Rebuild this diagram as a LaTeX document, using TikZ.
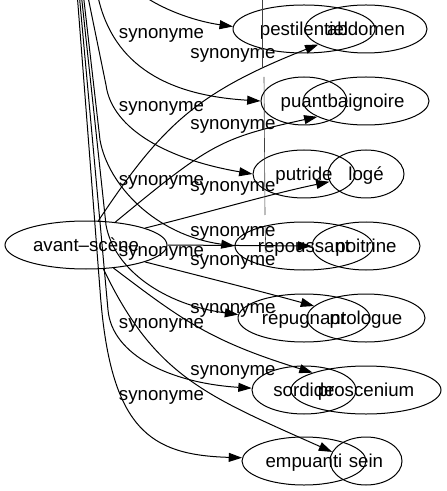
\documentclass[tikz,border=0pt]{standalone}
\usepackage{fontspec}
\setmainfont{Liberation Sans}
\usetikzlibrary{shapes.geometric,arrows.meta}
\tikzset{
  word/.style={ellipse, draw, line width=0.75pt, inner sep=0pt, minimum height=36pt,
    font=\fontsize{14}{16}\selectfont, text height=11.2pt, text depth=2.1pt},
  rel/.style={inner sep=0pt, font=\fontsize{14}{16}\selectfont},
  edge/.style={draw, line width=0.75pt, -{Triangle[length=10pt,width=6.7pt]}},
  hair/.style={draw, line width=0.45pt, black!75}
}
\begin{document}
\begin{tikzpicture}[x=0.75pt,y=-0.75pt]
\useasboundingbox (0,0) rectangle (446,491);
% right-hand graph
\node[word, minimum width=121.5pt] (av) at (86,245) {avant–scène};
\node[word, minimum width=91.5pt]  (abdomen) at (366,29) {abdomen};
\node[word, minimum width=94.5pt]  (baignoire) at (366,101) {baignoire};
\node[word, minimum width=57pt]    (loge) at (366,174) {logé};
\node[word, minimum width=81pt]    (poitrine) at (366,246) {poitrine};
\node[word, minimum width=88.5pt]  (prologue) at (366,318) {prologue};
\node[word, minimum width=112.5pt] (proscenium) at (366,390) {proscenium};
\node[word, minimum width=54pt]    (sein) at (366,461) {sein};
% left-hand graph
\node[word, minimum width=106.5pt] (pest) at (304,29) {pestilentiel};
\node[word, minimum width=64.5pt]  (puant) at (304,101) {puant};
\node[word, minimum width=76.5pt]  (putride) at (304,174) {putride};
\node[word, minimum width=103.5pt] (repoussant) at (304,246) {repoussant};
\node[word, minimum width=99pt]    (repugnant) at (304,318) {répugnant};
\node[word, minimum width=78pt]    (sordide) at (304,390) {sordide};
\node[word, minimum width=93pt]    (empuanti) at (304,461) {empuanti};
% free ends of the left graph (source above the picture)
\coordinate (sPest) at (138,-8);
\coordinate (sPuant) at (97,-8);
\coordinate (sPutr) at (87,-8);
\coordinate (sRepo) at (83,-8);
\coordinate (sRepu) at (81,-8);
\coordinate (sSord) at (79,-8);
\coordinate (sEmpu) at (77,-8);
% left graph edges
\draw[edge] (sPest) .. controls (165,12) and (200,22) .. (pest.178);
\draw[edge] (sPuant) .. controls (110,60) and (160,95) .. (puant.180);
\draw[edge] (sPutr) -- (106,85) .. controls (112,130) and (170,160) .. (putride.180);
\draw[edge] (sRepo) -- (100,140) .. controls (108,185) and (155,235) .. (repoussant.180);
\draw[edge] (sRepu) -- (106,225) .. controls (114,270) and (165,305) .. (repugnant.177);
\draw[edge] (sSord) -- (108,310) .. controls (112,355) and (170,383) .. (sordide.178);
\draw[edge] (sEmpu) -- (100,290) .. controls (110,430) and (150,455) .. (empuanti.177);
% right graph edges
\draw[edge] (av.63) .. controls (161,127) and (195,93) .. (abdomen.198);
\draw[edge] (av.38) .. controls (210,144) and (220,138) .. (baignoire.198);
\draw[edge] (av.16) .. controls (210,212) and (270,194) .. (loge.192);
\draw[edge] (av.east) -- (poitrine.west);
\draw[edge] (av.344) .. controls (200,276) and (260,291) .. (prologue.167);
\draw[edge] (av.320) .. controls (182,320) and (210,341) .. (proscenium.162);
\draw[edge] (av.306) .. controls (155,377) and (207,396) .. (sein.165);
% edge labels
\node[rel] (l1) at (161.5,35) {synonyme};
\node[rel] (l2) at (161.5,108) {synonyme};
\node[rel] (l3) at (161.5,182) {synonyme};
\node[rel] (l4) at (161.5,253) {synonyme};
\node[rel] (l5) at (161.5,325) {synonyme};
\node[rel] (l6) at (161.5,397) {synonyme};
\node[rel] (r1) at (233,55) {synonyme};
\node[rel] (r2) at (233,126) {synonyme};
\node[rel] (r3) at (233,188) {synonyme};
\node[rel] (r4) at (233,233) {synonyme};
\node[rel] (r5) at (233,262) {synonyme};
\node[rel] (r6) at (233,310) {synonyme};
\node[rel] (r7) at (233,372) {synonyme};
% thin vertical line
\coordinate (h1a) at (262,0);   \coordinate (h1b) at (262,67);
\coordinate (h2a) at (264,77);  \coordinate (h2b) at (265,215);
\coordinate (h3a) at (265,225); \coordinate (h3b) at (266,253);
\draw[hair] (h1a) -- (h1b);
\draw[hair] (h2a) -- (h2b);
\draw[hair] (h3a) -- (h3b);
\end{tikzpicture}
\end{document}
